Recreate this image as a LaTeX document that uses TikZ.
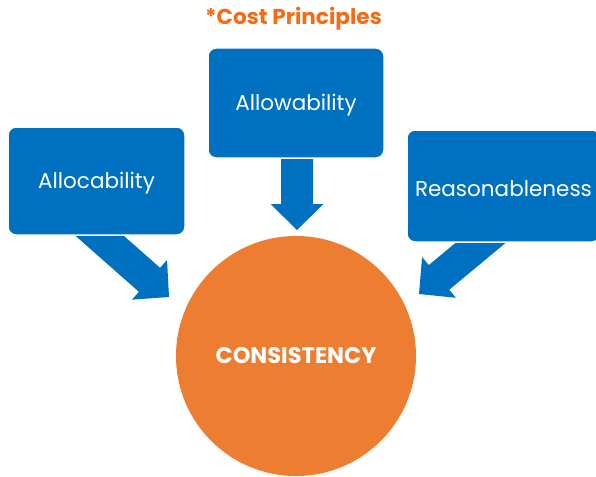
\documentclass[tikz,border=0pt]{standalone}
\usepackage{fontspec}
\setmainfont{Poppins}
\usetikzlibrary{calc,backgrounds}
\definecolor{boxblue}{HTML}{0070C0}
\definecolor{circorange}{HTML}{ED7D31}
\definecolor{titleorange}{HTML}{F96A15}
\newcommand\blkarrow[2]{%
  \coordinate (hb) at ($(#2)!26pt!(#1)$);
  \fill[boxblue] ($(#1)!16pt!90:(#2)$) -- ($(hb)!16pt!90:(#2)$) -- ($(hb)!26.5pt!90:(#2)$) -- (#2)
    -- ($(hb)!26.5pt!-90:(#2)$) -- ($(hb)!16pt!-90:(#2)$) -- ($(#1)!16pt!-90:(#2)$) -- cycle;}
\newcommand\boxlabel[1]{\raisebox{-2.5pt}[\height][\depth]{#1}}
\begin{document}
\begin{tikzpicture}[x=1pt,y=1pt,
  box/.style={fill=boxblue, draw=white, line width=1.5pt, rounded corners=8pt,
    inner sep=0pt, text=white, font=\fontsize{21.5}{25}\selectfont},
  hub/.style={circle, fill=circorange, inner sep=0pt, minimum size=240pt,
    text=white, font=\fontsize{22.5}{26}\selectfont\bfseries},
  title/.style={text=titleorange, inner sep=0pt, font=\fontsize{21.6}{25}\selectfont\bfseries}]
\useasboundingbox (0,0) rectangle (596,-476);
\clip (0,0) rectangle (596,-476);
\node[title] (ttl) at (293.5,-19) {*Cost Principles};
\node[box, minimum width=176pt, minimum height=110pt] (allow) at (296,-103) {\boxlabel{Allowability}};
\node[box, minimum width=177pt, minimum height=108pt] (alloc) at (96.5,-181) {\boxlabel{Allocability}};
\node[box, minimum width=193pt, minimum height=112pt] (reason) at (503.5,-186) {\boxlabel{Reasonableness}};
\node[hub] (cons) at (296,-356) {CONSISTENCY};
\coordinate (tmid) at (297,-150);
\coordinate (pmid) at (297,-230);
\coordinate (tleft) at (71.5,-211);
\coordinate (pleft) at (169,-297);
\coordinate (tright) at (519,-211);
\coordinate (pright) at (419,-294);
\begin{pgfonlayer}{background}
\blkarrow{tmid}{pmid}
\blkarrow{tleft}{pleft}
\blkarrow{tright}{pright}
\end{pgfonlayer}
\end{tikzpicture}
\end{document}
